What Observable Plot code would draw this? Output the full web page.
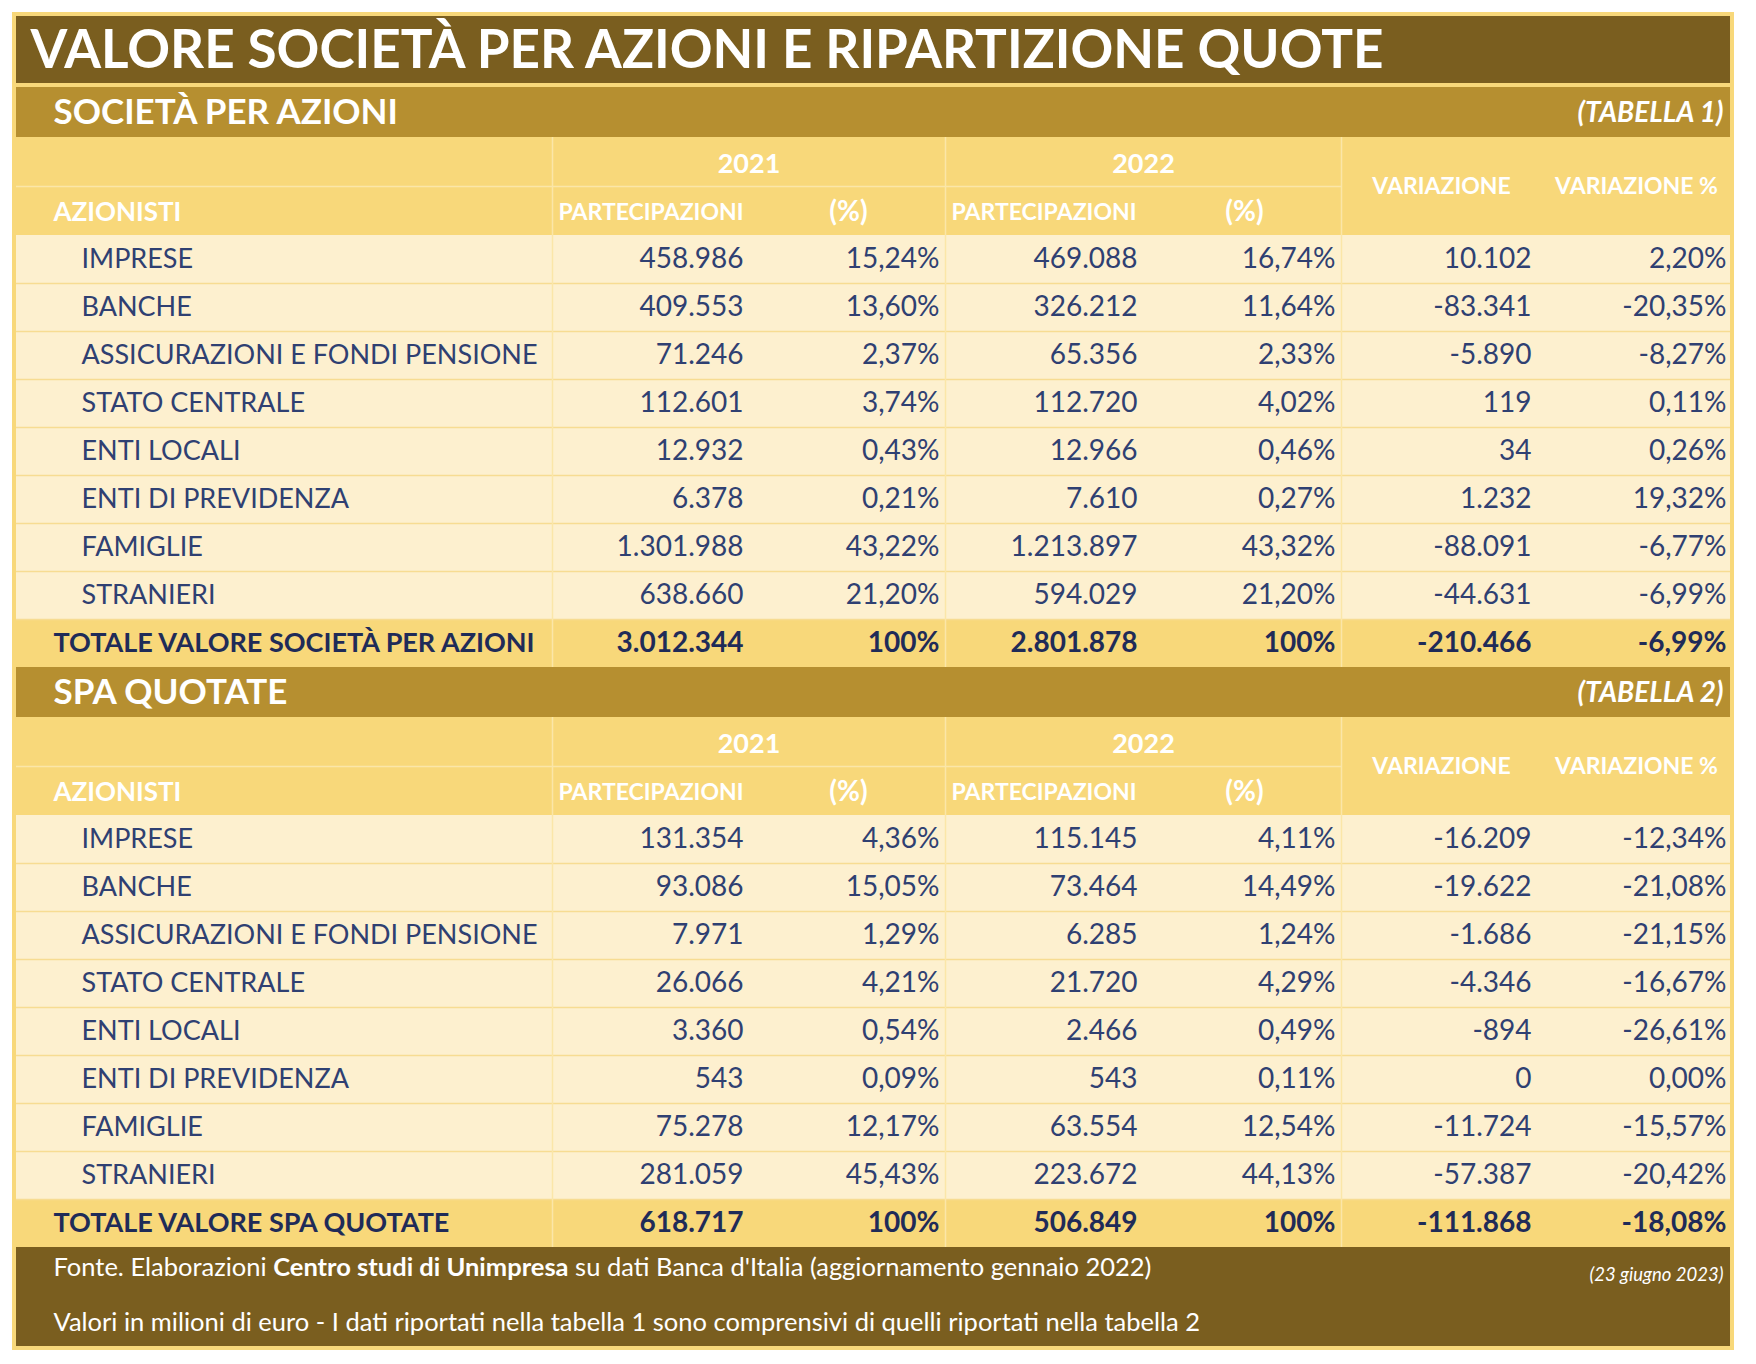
<!DOCTYPE html>
<html>
<head>
<meta charset="utf-8">
<script src="https://cdn.jsdelivr.net/npm/d3@7"></script>
<script src="https://cdn.jsdelivr.net/npm/@observablehq/plot@0.6"></script>
<style>
  body { margin: 0; background: #ffffff; }
  #chart svg { display: block; }
</style>
</head>
<body>
<div id="chart"></div>
<script>
// ---------- DATA ----------
const titolo = "VALORE SOCIETÀ PER AZIONI E RIPARTIZIONE QUOTE";
const sezioni = ["SOCIETÀ PER AZIONI", "SPA QUOTATE"];
const tabelle = ["(TABELLA 1)", "(TABELLA 2)"];
const anni = ["2021", "2022"];
const intestazioni = ["AZIONISTI", "PARTECIPAZIONI", "(%)", "VARIAZIONE", "VARIAZIONE %"];
const azionisti = ["IMPRESE", "BANCHE", "ASSICURAZIONI E FONDI PENSIONE", "STATO CENTRALE",
  "ENTI LOCALI", "ENTI DI PREVIDENZA", "FAMIGLIE", "STRANIERI"];
const totali = ["TOTALE VALORE SOCIETÀ PER AZIONI", "TOTALE VALORE SPA QUOTATE"];

const t1_part2021 = [458986, 409553, 71246, 112601, 12932, 6378, 1301988, 638660];
const t1_pct2021  = [15.24, 13.60, 2.37, 3.74, 0.43, 0.21, 43.22, 21.20];
const t1_part2022 = [469088, 326212, 65356, 112720, 12966, 7610, 1213897, 594029];
const t1_pct2022  = [16.74, 11.64, 2.33, 4.02, 0.46, 0.27, 43.32, 21.20];
const t1_var      = [10102, -83341, -5890, 119, 34, 1232, -88091, -44631];
const t1_varPct   = [2.20, -20.35, -8.27, 0.11, 0.26, 19.32, -6.77, -6.99];
const t1_totale   = [3012344, 100, 2801878, 100, -210466, -6.99];

const t2_part2021 = [131354, 93086, 7971, 26066, 3360, 543, 75278, 281059];
const t2_pct2021  = [4.36, 15.05, 1.29, 4.21, 0.54, 0.09, 12.17, 45.43];
const t2_part2022 = [115145, 73464, 6285, 21720, 2466, 543, 63554, 223672];
const t2_pct2022  = [4.11, 14.49, 1.24, 4.29, 0.49, 0.11, 12.54, 44.13];
const t2_var      = [-16209, -19622, -1686, -4346, -894, 0, -11724, -57387];
const t2_varPct   = [-12.34, -21.08, -21.15, -16.67, -26.61, 0.00, -15.57, -20.42];
const t2_totale   = [618717, 100, 506849, 100, -111868, -18.08];

const fonte1a = "Fonte. Elaborazioni ";
const fonte1b = "Centro studi di Unimpresa";
const fonte1c = " su dati Banca d'Italia (aggiornamento gennaio 2022)";
const fonte2 = "Valori in milioni di euro - I dati riportati nella tabella 1 sono comprensivi di quelli riportati nella tabella 2";
const dataPub = "(23 giugno 2023)";

// ---------- FORMAT ----------
const it = d3.formatLocale({decimal: ",", thousands: ".", grouping: [3], currency: ["", " €"], minus: "-"});
const fInt = it.format(",d");
const fPct2 = v => it.format(",.2f")(v) + "%";
const fPct0 = v => it.format(",d")(v) + "%";
const colFormats = [fInt, fPct2, fInt, fPct2, fInt, fPct2];
const totFormats = [fInt, fPct0, fInt, fPct0, fInt, fPct2];

// ---------- LAYOUT (style only) ----------
const W = 1756, H = 1364;
const L = 16, R = 1730;
const RH = 48;
const dataTop = [235, 815];
const colEdges = [552, 945, 1341];
const valRight = [743, 939, 1137, 1335, 1531, 1726];
const C = {
  border: "#f8d87a", title: "#7a5e1f", section: "#b68f30", header: "#f8d87a",
  row: "#fdf0cf", total: "#f8d87a", footer: "#7a5e1f",
  text: "#2f4072", textBold: "#1f2b58", line: "#f7dc92", headLine: "#fbe6a8"
};
const FONT = "Lato, 'Open Sans', sans-serif";

const tables = [
  {cols: [t1_part2021, t1_pct2021, t1_part2022, t1_pct2022, t1_var, t1_varPct], tot: t1_totale},
  {cols: [t2_part2021, t2_pct2021, t2_part2022, t2_pct2022, t2_var, t2_varPct], tot: t2_totale}
];

// ---------- BUILD ----------
const rects = [];
const hLines = [];
const vLines = [];
const labels = [], values = [], totLabels = [], totValues = [];
const sectionTexts = [], tabTexts = [], yearTexts = [], subHeadStart = [], subHeadMid = [], varHead = [], azHead = [];

rects.push({x1: 12, x2: 1734, y1: 12, y2: 1350, fill: C.border});
rects.push({x1: L, x2: R, y1: 16, y2: 83, fill: C.title});

tables.forEach((tb, t) => {
  const d0 = dataTop[t];
  const n = azionisti.length;
  const secTop = d0 - 148, secBot = d0 - 98;
  rects.push({x1: L, x2: R, y1: secTop, y2: secBot, fill: C.section});
  rects.push({x1: L, x2: R, y1: secBot, y2: d0, fill: C.header});
  rects.push({x1: L, x2: R, y1: d0, y2: d0 + n * RH, fill: C.row});
  rects.push({x1: L, x2: R, y1: d0 + n * RH, y2: d0 + (n + 1) * RH, fill: C.total});

  sectionTexts.push({x: 53, y: (secTop + secBot) / 2, text: sezioni[t]});
  tabTexts.push({x: 1723, y: (secTop + secBot) / 2 + 1, text: tabelle[t]});

  hLines.push({y: secBot + 49, x1: L, x2: colEdges[2], stroke: C.headLine});
  colEdges.forEach(cx => vLines.push({x: cx, y1: secBot, y2: d0 + (n + 1) * RH, stroke: C.headLine}));

  anni.forEach((a, k) => {
    const gx0 = colEdges[k], gx1 = colEdges[k + 1];
    yearTexts.push({x: (gx0 + gx1) / 2, y: secBot + 27, text: a});
    subHeadStart.push({x: gx0 + 6, y: secBot + 75, text: intestazioni[1]});
    subHeadMid.push({x: valRight[k * 2 + 1] - 91, y: secBot + 75, text: intestazioni[2]});
  });
  varHead.push({x: 1441, y: secBot + 49, text: intestazioni[3]});
  varHead.push({x: 1636, y: secBot + 49, text: intestazioni[4]});
  azHead.push({x: 53, y: secBot + 75, text: intestazioni[0]});

  azionisti.forEach((name, i) => {
    const yc = d0 + i * RH + RH / 2;
    labels.push({x: 81, y: yc, text: name});
    tb.cols.forEach((col, c) => values.push({x: valRight[c], y: yc, text: colFormats[c](col[i])}));
    if (i > 0) hLines.push({y: d0 + i * RH, x1: L, x2: R, stroke: C.line});
  });
  hLines.push({y: d0 + n * RH, x1: L, x2: R, stroke: C.line});
  const yt = d0 + n * RH + RH / 2;
  totLabels.push({x: 53, y: yt, text: totali[t]});
  tb.tot.forEach((v, c) => totValues.push({x: valRight[c], y: yt, text: totFormats[c](v)}));
});

rects.push({x1: L, x2: R, y1: 1247, y2: 1346, fill: C.footer});

const footerTexts = [{x: 53, y: 1267, text: fonte1a + fonte1b + fonte1c}, {x: 53, y: 1322, text: fonte2}];
const dateTexts = [{x: 1723, y: 1275, text: dataPub}];

const txt = (data, opts) => Plot.text(data, {x: "x", y: "y", text: "text", lineAnchor: "middle", fontFamily: FONT, ...opts});

const chart = Plot.plot({
  width: W, height: H,
  margin: 0,
  x: {domain: [0, W], range: [0, W], axis: null},
  y: {domain: [0, H], range: [0, H], axis: null},
  color: {type: "identity"},
  style: {background: "#ffffff"},
  marks: [
    Plot.rect(rects, {x1: "x1", x2: "x2", y1: "y1", y2: "y2", fill: "fill"}),
    Plot.ruleY(hLines, {y: "y", x1: "x1", x2: "x2", stroke: "stroke", strokeWidth: 1.5}),
    Plot.ruleX(vLines, {x: "x", y1: "y1", y2: "y2", stroke: "stroke", strokeWidth: 1.5}),
    txt([{x: 30, y: 51, text: titolo}], {textAnchor: "start", fill: "#ffffff", fontWeight: 700, fontSize: 53}),
    txt(sectionTexts, {textAnchor: "start", fill: "#ffffff", fontWeight: 700, fontSize: 35}),
    txt(tabTexts, {textAnchor: "end", fill: "#ffffff", fontWeight: 700, fontStyle: "italic", fontSize: 28}),
    txt(yearTexts, {textAnchor: "middle", fill: "#ffffff", fontWeight: 700, fontSize: 27}),
    txt(subHeadStart, {textAnchor: "start", fill: "#ffffff", fontWeight: 700, fontSize: 23}),
    txt(subHeadMid, {textAnchor: "middle", fill: "#ffffff", fontWeight: 700, fontSize: 28}),
    txt(varHead, {textAnchor: "middle", fill: "#ffffff", fontWeight: 700, fontSize: 23}),
    txt(azHead, {textAnchor: "start", fill: "#ffffff", fontWeight: 700, fontSize: 26}),
    txt(labels, {textAnchor: "start", fill: C.text, fontSize: 27}),
    txt(values, {textAnchor: "end", fill: C.text, fontSize: 28}),
    txt(totLabels, {textAnchor: "start", fill: C.textBold, fontWeight: 700, fontSize: 27}),
    txt(totValues, {textAnchor: "end", fill: C.textBold, fontWeight: 700, fontSize: 28}),
    txt(footerTexts, {textAnchor: "start", fill: "#ffffff", fontSize: 25.5, className: "fonte"}),
    txt(dateTexts, {textAnchor: "end", fill: "#ffffff", fontStyle: "italic", fontSize: 18.5})
  ]
});

const first = chart.querySelector("g.fonte text");
if (first) {
  first.textContent = "";
  const ns = "http://www.w3.org/2000/svg";
  [[fonte1a, 400], [fonte1b, 700], [fonte1c, 400]].forEach(([s, w]) => {
    const ts = document.createElementNS(ns, "tspan");
    ts.setAttribute("font-weight", w);
    ts.textContent = s;
    first.appendChild(ts);
  });
}

document.getElementById("chart").appendChild(chart);
</script>
</body>
</html>
